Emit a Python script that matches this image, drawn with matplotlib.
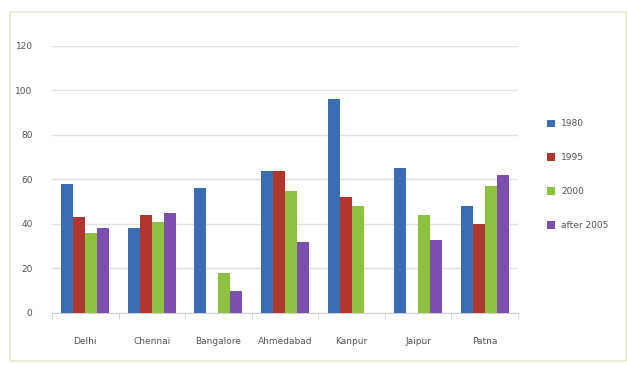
import numpy as np
import matplotlib.pyplot as plt
from matplotlib.patches import Rectangle, Patch

# ── Data ───────────────────────────────────────────────────────────────
cities = ["Delhi", "Chennai", "Bangalore", "Ahmedabad", "Kanpur", "Jaipur", "Patna"]
series_names = ["1980", "1995", "2000", "after 2005"]
v1980 = [58, 38, 56, 64, 96, 65, 48]
v1995 = [43, 44, 0, 64, 52, 0, 40]
v2000 = [36, 41, 18, 55, 48, 44, 57]
v2005 = [38, 45, 10, 32, 0, 33, 62]
y_ticks = [0, 20, 40, 60, 80, 100, 120]

colors = ["#3b6db5", "#b0372e", "#8dc13f", "#7a4fae"]

fig = plt.figure(figsize=(6.27, 3.65), dpi=100)
fig.patch.set_facecolor("white")

# light outer frame
fig.patches.append(Rectangle((0.016, 0.012), 0.982, 0.955, transform=fig.transFigure,
                             fill=False, edgecolor="#e6e9cc", linewidth=1.2))

ax = fig.add_axes([0.083, 0.1425, 0.743, 0.7315])
x = np.arange(len(cities))
width = 0.18
for i, (vals, name) in enumerate(zip([v1980, v1995, v2000, v2005], series_names)):
    ax.bar(x + (i - 1.5) * width, vals, width, color=colors[i], label=name, zorder=3)

ax.set_ylim(0, 120)
ax.set_xlim(-0.5, len(cities) - 0.5)
ax.set_yticks(y_ticks)
ax.grid(axis="y", color="#e2e2e2", linewidth=1, zorder=0)
for s in ["top", "right", "left"]:
    ax.spines[s].set_visible(False)
ax.spines["bottom"].set_color("#cfcfcf")
ax.tick_params(axis="y", length=0, labelsize=6.5, labelcolor="#555555", pad=14)
ax.set_xticks(x)
ax.set_xticklabels(cities)
ax.tick_params(axis="x", which="major", length=0, labelsize=6.5, labelcolor="#555555", pad=17)
ax.set_xticks(np.arange(-0.5, len(cities)), minor=True)
ax.tick_params(axis="x", which="minor", length=4, color="#cfcfcf", direction="out")

handles = [Patch(facecolor=c, label=n) for c, n in zip(colors, series_names)]
fig.legend(handles=handles, loc="upper left", bbox_to_anchor=(0.86, 0.695), frameon=False,
           fontsize=6.5, labelspacing=2.75, handlelength=0.9, handleheight=0.9,
           handletextpad=0.6, labelcolor="#555555")

fig.savefig("out.png", dpi=100)
